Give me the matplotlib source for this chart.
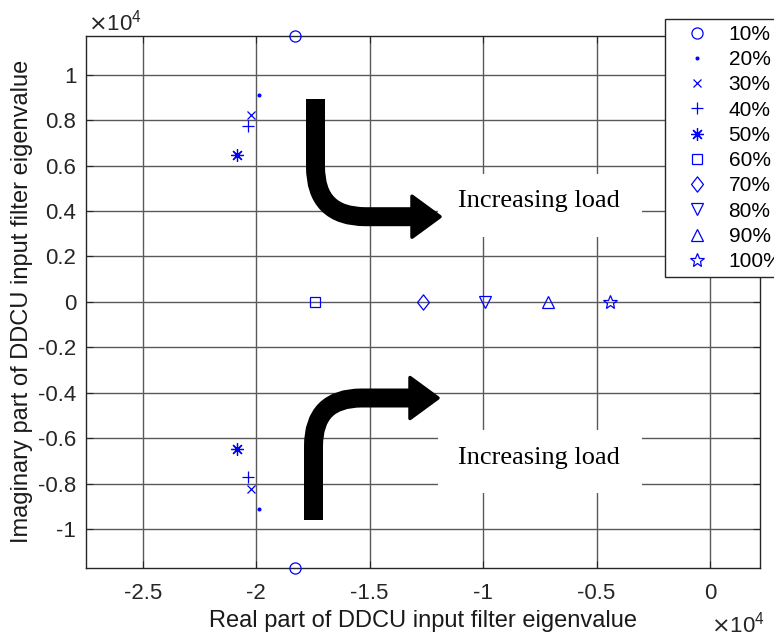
import matplotlib
matplotlib.use("Agg")
import matplotlib.pyplot as plt
from matplotlib.path import Path
from matplotlib.patches import PathPatch, Polygon, Rectangle
from matplotlib.ticker import FuncFormatter, MultipleLocator

plt.rcParams["font.family"] = ["Liberation Sans", "DejaVu Sans"]
plt.rcParams["axes.unicode_minus"] = False

# eigenvalues of the DDCU input filter for each load level
loads = ["10%", "20%", "30%", "40%", "50%", "60%", "70%", "80%", "90%", "100%"]
real_part = [-18270, -19860, -20250, -20380, -20830, -17410, -12660, -9930, -7120, -4430]
imag_part = [11700, 9120, 8230, 7720, 6480, 0, 0, 0, 0, 0]

diamond = Path([(0, 1), (0.78, 0), (0, -1), (-0.78, 0), (0, 1)], closed=True)
markers = ["o", ".", "x", "+", (8, 2, 0), "s", diamond, "v", "^", "*"]
msizes = [8, 4, 6, 9, 9, 7, 11, 9, 9, 10]

W, H = 774, 637
fig = plt.figure(figsize=(W / 100, H / 100), dpi=100)
ax = fig.add_axes([86 / W, 1 - 567.7 / H, 674 / W, 531.7 / H])

blue = (0, 0, 1)
for lab, x, y, m, ms in zip(loads, real_part, imag_part, markers, msizes):
    ys = [y, -y] if y else [y]
    ax.plot([x] * len(ys), ys, linestyle="none", marker=m, markersize=ms,
            markerfacecolor=blue if m == "." else "none",
            markeredgecolor=blue, markeredgewidth=0.9, label=lab, zorder=6,
            clip_on=False)

ax.set_xlim(-27500, 2200)
ax.set_ylim(-11700, 11700)
ax.xaxis.set_major_locator(MultipleLocator(5000))
ax.yaxis.set_major_locator(MultipleLocator(2000))
fmt = FuncFormatter(lambda v, _: f"{v / 1e4:g}")
ax.xaxis.set_major_formatter(fmt)
ax.yaxis.set_major_formatter(fmt)

ax.grid(True, color="0.35", linewidth=1.0)
ax.tick_params(direction="in", length=5, top=True, right=True, labelsize=16,
               colors="0.15")
ax.tick_params(axis="x", pad=11)
ax.tick_params(axis="y", pad=7)
for s in ax.spines.values():
    s.set_color("0.15")
    s.set_linewidth(1.0)

ax.set_xlabel("Real part of DDCU input filter eigenvalue", fontsize=17, color="0.1")
ax.set_ylabel("Imaginary part of DDCU input filter eigenvalue", fontsize=17, color="0.1")
ax.xaxis.set_label_coords(0.5, -0.08)
ax.yaxis.set_label_coords(-0.079, 0.5)

ax.text(88 / W, 1 - 30 / H, r"$\times\mathregular{10^4}$", transform=fig.transFigure,
        fontsize=16, color="0.15", va="baseline", ha="left")
ax.text(711 / W, 1 - 633 / H, r"$\times\mathregular{10^4}$", transform=fig.transFigure,
        fontsize=16, color="0.15", va="baseline", ha="left")

leg = ax.legend(loc="upper left", bbox_to_anchor=(665 / W, 1 - 18.7 / H),
                bbox_transform=fig.transFigure, fontsize=15, frameon=True,
                fancybox=False, edgecolor="0.15", framealpha=1,
                handlelength=2.45, handletextpad=0.3, labelspacing=0.3,
                borderpad=0.3, borderaxespad=0)
leg.get_frame().set_linewidth(1.0)
leg.set_zorder(10)

tf = fig.transFigure


def px(x, y):
    return (x / W, 1 - y / H)


# white boxes behind the annotations
for top in (174, 430):
    x0, y0 = px(438, top + 63)
    x1, y1 = px(642, top)
    ax.add_patch(Rectangle((x0, y0), x1 - x0, y1 - y0, transform=tf,
                           facecolor="white", edgecolor="none", zorder=3,
                           clip_on=False))


def bent_arrow(xv, yend, ycorner_line, r, xhead, xtip, half):
    sign = 1 if ycorner_line > yend else -1
    verts = [px(xv, yend), px(xv, ycorner_line - sign * r),
             px(xv, ycorner_line), px(xv + r, ycorner_line),
             px(xhead + 1, ycorner_line)]
    codes = [Path.MOVETO, Path.LINETO, Path.CURVE3, Path.CURVE3, Path.LINETO]
    ax.add_patch(PathPatch(Path(verts, codes), transform=tf, facecolor="none",
                           edgecolor="black", linewidth=19 * 0.72,
                           capstyle="butt", joinstyle="round", zorder=4,
                           clip_on=False))
    ax.add_patch(Polygon([px(xhead, ycorner_line - half), px(xtip, ycorner_line),
                          px(xhead, ycorner_line + half)], closed=True,
                         transform=tf, facecolor="black", edgecolor="black",
                         linewidth=2.5, joinstyle="round", zorder=4,
                         clip_on=False))


bent_arrow(315.5, 99, 216.7, 50, 412, 440, 20.5)
bent_arrow(313.5, 520, 398, 48, 410, 438, 20.5)

for yc in (201, 458):
    ax.text(538.5 / W, 1 - yc / H, "Increasing load", transform=tf,
            fontsize=19, family="Liberation Serif", ha="center", va="center",
            zorder=5)

fig.savefig("out.png", dpi=100)
